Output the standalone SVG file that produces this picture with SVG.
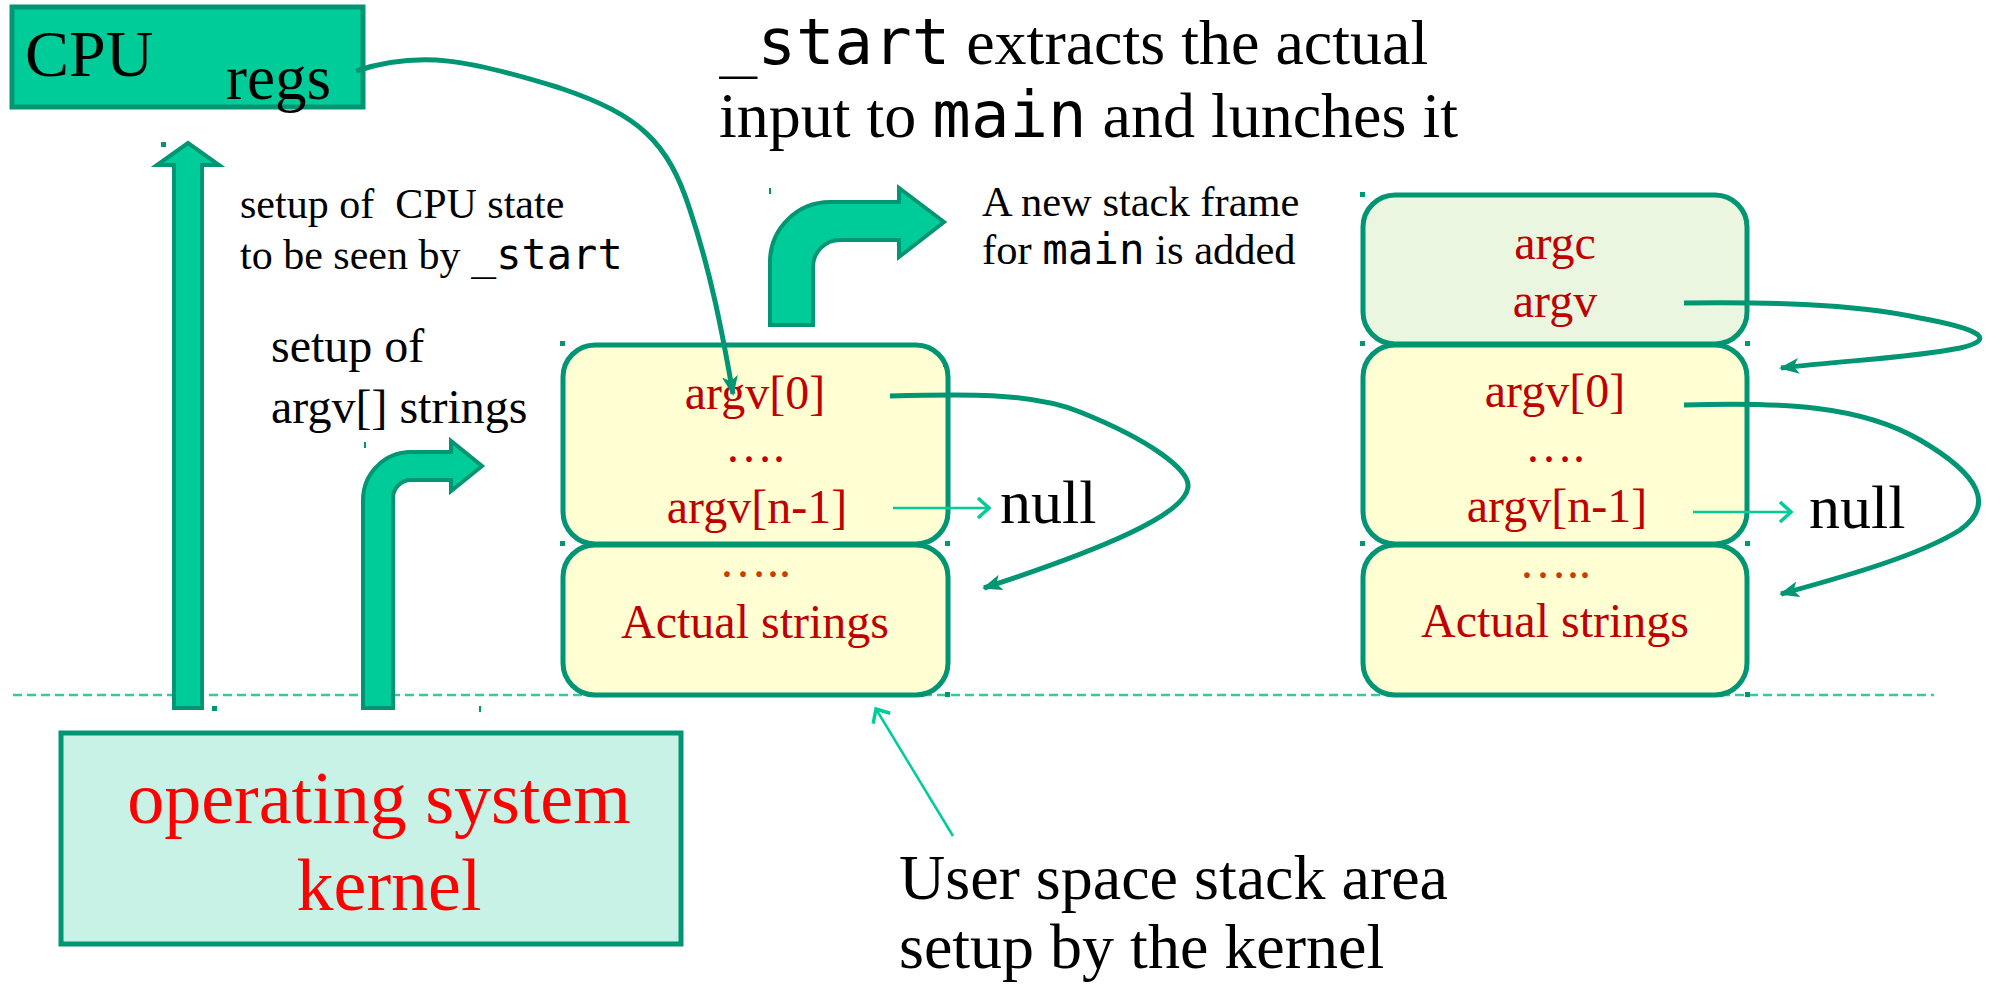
<svg xmlns="http://www.w3.org/2000/svg" width="1992" height="990" viewBox="0 0 1992 990">
<defs>
<style>
.serif{font-family:"Liberation Serif","Times New Roman",serif;}
.mono{font-family:"DejaVu Sans Mono","Liberation Mono",monospace;}
.blk{fill:#000;}
.st{fill:#C00000;font-family:"Liberation Serif","Times New Roman",serif;font-size:48px;text-anchor:middle;}
.dots{fill:#C83C00;}
.box{stroke:#009673;stroke-width:5;}
.yel{fill:#FFFFD3;}
.grn{fill:#EAF6E0;}
.fat{fill:#00CC99;stroke:#009673;stroke-width:4;stroke-linejoin:miter;}
.curve{fill:none;stroke:#009673;stroke-width:5;}
.thin{fill:none;stroke:#00CC99;stroke-width:2.5;}
.mark{fill:#009673;}
</style>
<marker id="head" viewBox="0 0 20 16" refX="18" refY="8" markerWidth="20" markerHeight="16" markerUnits="userSpaceOnUse" orient="auto">
<path d="M0,0 L20,8 L0,16 L5,8 Z" fill="#009673"/>
</marker>
<marker id="chev" viewBox="0 0 24 24" refX="20" refY="12" markerWidth="24" markerHeight="24" markerUnits="userSpaceOnUse" orient="auto">
<path d="M9,2 L20,12 L9,22" fill="none" stroke="#00CC99" stroke-width="3.5"/>
</marker>
</defs>
<rect width="1992" height="990" fill="#FFFFFF"/>

<!-- dashed boundary -->
<line x1="13" y1="695" x2="1934" y2="695" stroke="#33CC99" stroke-width="2.5" stroke-dasharray="9,5"/>

<g id="cpu">
<rect x="12" y="7" width="351" height="100" fill="#00CC99" stroke="#009673" stroke-width="5"/>
<text x="25" y="76" class="serif blk" font-size="66">CPU</text>
<text x="226" y="99" class="serif blk" font-size="63">regs</text>
</g>

<g id="kernel">
<rect x="61" y="733" width="620" height="211" fill="#C8F2E6" stroke="#009673" stroke-width="5"/>
<text x="379" y="823" class="serif" fill="#FF0000" font-size="74" text-anchor="middle">operating system</text>
<text x="389" y="910" class="serif" fill="#FF0000" font-size="74" text-anchor="middle">kernel</text>
</g>

<g id="title">
<text x="719" y="64" class="serif blk" font-size="64"><tspan class="mono">_start</tspan> extracts the actual</text>
<text x="719" y="137" class="serif blk" font-size="64">input to <tspan class="mono">main</tspan> and lunches it</text>
</g>

<g id="label-cpu-state">
<text x="240" y="218" class="serif blk" font-size="42">setup of&#160; CPU state</text>
<text x="240" y="269" class="serif blk" font-size="42">to be seen by <tspan class="mono">_start</tspan></text>
</g>

<g id="label-argv-setup">
<text x="271" y="362" class="serif blk" font-size="48">setup of</text>
<text x="271" y="423" class="serif blk" font-size="48">argv[] strings</text>
</g>

<g id="label-new-frame">
<text x="982" y="216" class="serif blk" font-size="42.5">A new stack frame</text>
<text x="982" y="264" class="serif blk" font-size="42.5">for <tspan class="mono">main</tspan> is added</text>
</g>

<g id="label-user-stack">
<text x="899" y="899" class="serif blk" font-size="64">User space stack area</text>
<text x="899" y="968" class="serif blk" font-size="64">setup by the kernel</text>
</g>

<g id="up-arrow">
<path class="fat" d="M174,708 L174,165 L157,165 L188,143 L219,165 L202,165 L202,708 Z"/>
</g>

<g id="bent-arrow-argv">
<path class="fat" d="M363,708 L363,500 A48,48 0 0 1 411,452 L451,452 L451,441 L482,466 L451,491 L451,480 L411,480 A18,18 0 0 0 393,498 L393,708 Z"/>
</g>

<g id="bent-arrow-frame">
<path class="fat" d="M770,325 L770,262 A60,60 0 0 1 830,202 L899,202 L899,188 L944,222 L899,257 L899,240 L840,240 A27,27 0 0 0 813,267 L813,325 Z"/>
</g>

<g id="stack1">
<rect class="box yel" x="563" y="345" width="385" height="199" rx="32"/>
<rect class="box yel" x="563" y="545" width="385" height="150" rx="32"/>
<text class="st" x="755" y="409">argv[0]</text>
<text class="st" x="755" y="462">….</text>
<text class="st" x="757" y="523">argv[n-1]</text>
<text class="st dots" x="755" y="577">…..</text>
<text class="st" x="755" y="638">Actual strings</text>
</g>

<g id="stack2">
<rect class="box grn" x="1363" y="195" width="384" height="149" rx="32"/>
<rect class="box yel" x="1363" y="345" width="384" height="199" rx="32"/>
<rect class="box yel" x="1363" y="545" width="384" height="150" rx="32"/>
<text class="st" x="1555" y="259">argc</text>
<text class="st" x="1555" y="317">argv</text>
<text class="st" x="1555" y="407">argv[0]</text>
<text class="st" x="1555" y="462">….</text>
<text class="st" x="1557" y="522">argv[n-1]</text>
<text class="st dots" x="1555" y="578">…..</text>
<text class="st" x="1555" y="637">Actual strings</text>
</g>

<g id="null1"><text x="1000" y="523" class="serif blk" font-size="62">null</text></g>
<g id="null2"><text x="1809" y="528" class="serif blk" font-size="62">null</text></g>

<g id="connectors">
<path class="curve" marker-end="url(#head)" d="M356,71 C420,50 470,60 560,88 C640,115 668,142 690,210 C710,270 722,330 733,394"/>
<path class="curve" marker-end="url(#head)" d="M890,396 C960,394 1030,392 1080,412 C1150,440 1190,470 1188,487 C1185,515 1100,550 984,588"/>
<path class="thin" marker-end="url(#chev)" d="M893,508 L989,508"/>
<path class="curve" marker-end="url(#head)" d="M1684,303 C1760,302 1850,303 1920,318 C1985,330 1995,340 1960,348 C1910,358 1850,360 1781,368"/>
<path class="curve" marker-end="url(#head)" d="M1684,405 C1780,402 1860,405 1920,440 C1980,475 1995,505 1960,530 C1920,555 1850,575 1781,594"/>
<path class="thin" marker-end="url(#chev)" d="M1693,512 L1791,512"/>
<path class="thin" marker-end="url(#chev)" d="M953,836 L876,709"/>
</g>

<g id="marks">
<rect class="mark" x="161" y="142" width="5" height="5"/>
<rect class="mark" x="212" y="706" width="5" height="5"/>
<rect class="mark" x="769" y="188" width="2" height="6"/>
<rect class="mark" x="943" y="361" width="2" height="6"/>
<rect class="mark" x="364" y="442" width="2" height="6"/>
<rect class="mark" x="479" y="706" width="2" height="6"/>
<rect class="mark" x="560" y="341" width="5" height="5"/>
<rect class="mark" x="560" y="541" width="5" height="5"/>
<rect class="mark" x="945" y="541" width="5" height="5"/>
<rect class="mark" x="945" y="692" width="5" height="5"/>
<rect class="mark" x="1360" y="192" width="5" height="5"/>
<rect class="mark" x="1360" y="341" width="5" height="5"/>
<rect class="mark" x="1745" y="341" width="5" height="5"/>
<rect class="mark" x="1360" y="541" width="5" height="5"/>
<rect class="mark" x="1745" y="541" width="5" height="5"/>
<rect class="mark" x="1745" y="692" width="5" height="5"/>
</g>
</svg>
